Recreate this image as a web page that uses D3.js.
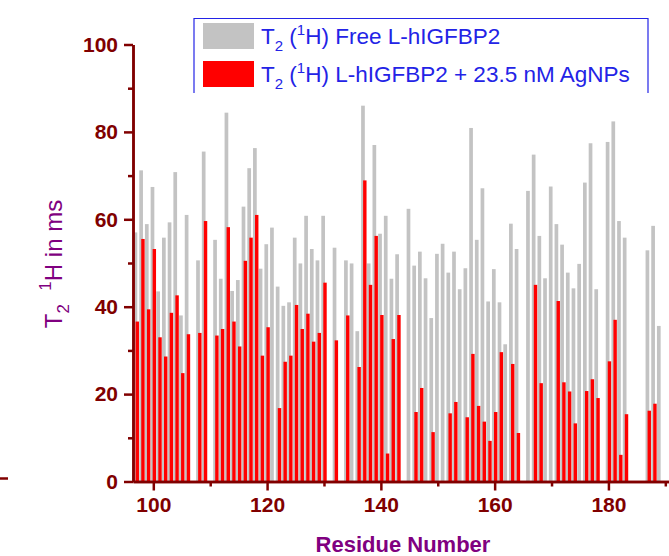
<!DOCTYPE html>
<html>
<head>
<meta charset="utf-8">
<script src="https://cdn.jsdelivr.net/npm/d3@7"></script>
<style>
  body { margin: 0; background: #fff; }
  svg { display: block; font-family: "Liberation Sans", Arial, sans-serif; }
</style>
</head>
<body>
<div id="chart"></div>
<script>
// residue numbers on the x axis
const residues = [97, 98, 99, 100, 101, 102, 103, 104, 105, 106, 107, 108, 109, 110, 111, 112, 113, 114, 115, 116,
  117, 118, 119, 120, 121, 122, 123, 124, 125, 126, 127, 128, 129, 130, 131, 132, 133, 134, 135, 136,
  137, 138, 139, 140, 141, 142, 143, 144, 145, 146, 147, 148, 149, 150, 151, 152, 153, 154, 155, 156,
  157, 158, 159, 160, 161, 162, 163, 164, 165, 166, 167, 168, 169, 170, 171, 172, 173, 174, 175, 176,
  177, 178, 179, 180, 181, 182, 183, 184, 185, 186, 187, 188, 189];

// T2 (1H) free L-hIGFBP2, ms (null = not measured)
const freeT2 = [57.0, 71.2, 58.9, 67.4, 43.5, 55.8, 59.3, 70.8, 38.0, 61.0, null, 50.6, 75.5, null, 55.3, 46.4, 84.4, 43.6, 46.1, 62.9,
  71.7, 76.3, 48.7, 54.3, 58.1, 44.6, 40.2, 41.0, 55.8, 49.9, 60.8, 53.2, 50.6, 60.8, null, 53.5, null, 50.6, 49.9, 34.4,
  86.0, 49.9, 77.0, 56.7, 60.8, 46.4, 52.0, null, 62.4, 49.4, 52.6, 46.5, 37.4, 52.1, 54.4, 47.8, 52.6, 44.0, 48.8, 80.9,
  55.3, 67.1, 41.2, 48.6, 41.0, 31.4, 59.0, 53.2, null, 66.5, 74.8, 56.2, 46.5, 67.5, 58.9, 54.2, 47.8, 44.2, 49.8, 68.4,
  77.4, 44.0, null, 77.7, 82.4, 59.6, 55.8, null, null, null, 52.9, 58.5, 35.6];

// T2 (1H) L-hIGFBP2 + 23.5 nM AgNPs, ms
const agT2 = [36.6, 55.5, 39.4, 53.2, 33.0, 28.6, 38.6, 42.6, 24.8, 33.7, null, 34.0, 59.6, null, 33.4, 34.9, 58.2, 36.6, 30.9, 50.5,
  55.8, 61.0, 28.8, 35.3, null, 16.8, 27.4, 28.8, 40.4, 34.9, 38.4, 32.0, 34.0, 45.5, null, 32.3, null, 38.0, null, 26.2,
  68.9, 45.0, 56.2, 38.1, 6.4, 32.6, 38.1, null, null, 15.9, 21.4, null, 11.3, null, null, 15.6, 18.2, null, 14.7, 29.2,
  17.3, 13.7, 9.3, 15.9, 29.6, null, 26.9, 11.1, null, null, 45.0, 22.5, null, null, 41.3, 22.7, 20.6, 13.3, null, 20.7,
  23.4, 19.1, null, 27.5, 37.0, 6.1, 15.4, null, null, null, 16.2, 17.8, null];

const xMajorTicks = [100, 120, 140, 160, 180];
const xMinorTicks = [110, 130, 150, 170, 190];
const yMajorTicks = [0, 20, 40, 60, 80, 100];
const yMinorTicks = [10, 30, 50, 70, 90];

const width = 669, height = 556;
const axisColor = "#800000", titleColor = "#800080", legendColor = "#2323e6";

const svg = d3.select("#chart")
  .append("svg")
  .attr("width", width)
  .attr("height", height);

const x = d3.scaleLinear().domain([96.43, 191]).range([133, 671]);
const y = d3.scaleLinear().domain([0, 100]).range([481.5, 44.5]);
const bw = x(1) - x(0); // one residue in px

const rows = residues.map((r, i) => ({res: r, free: freeT2[i], ag: agT2[i]}));

// grey bars behind, red bars shifted right on top
svg.append("g")
  .selectAll("rect")
  .data(rows.filter(d => d.free != null))
  .join("rect")
    .attr("x", d => x(d.res) - 0.47 * bw)
    .attr("width", 0.65 * bw)
    .attr("y", d => y(d.free))
    .attr("height", d => y(0) - y(d.free))
    .attr("fill", "#c3c3c3");

svg.append("g")
  .selectAll("rect")
  .data(rows.filter(d => d.ag != null))
  .join("rect")
    .attr("x", d => x(d.res) - 0.12 * bw)
    .attr("width", 0.6 * bw)
    .attr("y", d => y(d.ag))
    .attr("height", d => y(0) - y(d.ag))
    .attr("fill", "#ff0000");

function styleAxis(g) {
  g.attr("font-family", null).attr("font-size", null);
  g.select(".domain").attr("stroke", axisColor).attr("stroke-width", 2.5);
  g.selectAll(".tick line").attr("stroke", axisColor).attr("stroke-width", 2.5);
  g.selectAll(".tick text")
    .attr("fill", axisColor)
    .attr("font-size", 21)
    .attr("font-weight", "bold");
}

// y axis
svg.append("g")
  .attr("transform", "translate(133,0)")
  .call(d3.axisLeft(y).tickValues(yMinorTicks).tickSize(5).tickSizeOuter(0).tickFormat(""))
  .call(styleAxis);
svg.append("g")
  .attr("transform", "translate(133,0)")
  .call(d3.axisLeft(y).tickValues(yMajorTicks).tickSize(9).tickSizeOuter(0).tickPadding(6))
  .call(styleAxis);

// x axis
svg.append("g")
  .attr("transform", `translate(0,${y(0)})`)
  .call(d3.axisBottom(x).tickValues(xMinorTicks).tickSize(5).tickSizeOuter(0).tickFormat(""))
  .call(styleAxis);
svg.append("g")
  .attr("transform", `translate(0,${y(0)})`)
  .call(d3.axisBottom(x).tickValues(xMajorTicks).tickSize(9).tickSizeOuter(0).tickPadding(7))
  .call(styleAxis);

// leftover dash at the far left edge
svg.append("line")
  .attr("x1", 0).attr("x2", 8)
  .attr("y1", y(0) - 3).attr("y2", y(0) - 3)
  .attr("stroke", axisColor)
  .attr("stroke-width", 2.5);

// axis titles
svg.append("text")
  .attr("x", 403)
  .attr("y", 552)
  .attr("text-anchor", "middle")
  .attr("fill", titleColor)
  .attr("font-weight", "bold")
  .attr("font-size", 22)
  .text("Residue Number");

const yt = svg.append("text")
  .attr("transform", "translate(62,264) rotate(-90)")
  .attr("text-anchor", "middle")
  .attr("fill", titleColor)
  .attr("font-size", 24)
  .style("white-space", "pre");
yt.append("tspan").text("T");
yt.append("tspan").attr("dy", 7).attr("font-size", 17).text("2");
yt.append("tspan").attr("dy", -7).text("  ");
yt.append("tspan").attr("dy", -11).attr("font-size", 17).text("1");
yt.append("tspan").attr("dy", 11).text("H in ms");

// legend
const legend = svg.append("g");
legend.append("path")
  .attr("d", "M194,93V18.5H648V93")
  .attr("fill", "none")
  .attr("stroke", legendColor)
  .attr("stroke-width", 1.2);

const legendItems = [
  {color: "#c3c3c3", label: " Free L-hIGFBP2"},
  {color: "#ff0000", label: " L-hIGFBP2 + 23.5 nM AgNPs"}
];
legendItems.forEach((d, i) => {
  const base = 44 + i * 38;
  legend.append("rect")
    .attr("x", 203).attr("y", base - 21)
    .attr("width", 51).attr("height", 26)
    .attr("fill", d.color);
  const t = legend.append("text")
    .attr("x", 261).attr("y", base)
    .attr("fill", legendColor)
    .attr("font-size", 22.5)
    .style("white-space", "pre");
  t.append("tspan").text("T");
  t.append("tspan").attr("dy", 7).attr("font-size", 15).text("2");
  t.append("tspan").attr("dy", -7).text(" (");
  t.append("tspan").attr("dy", -9).attr("font-size", 15).text("1");
  t.append("tspan").attr("dy", 9).text("H)" + d.label);
});
</script>
</body>
</html>
